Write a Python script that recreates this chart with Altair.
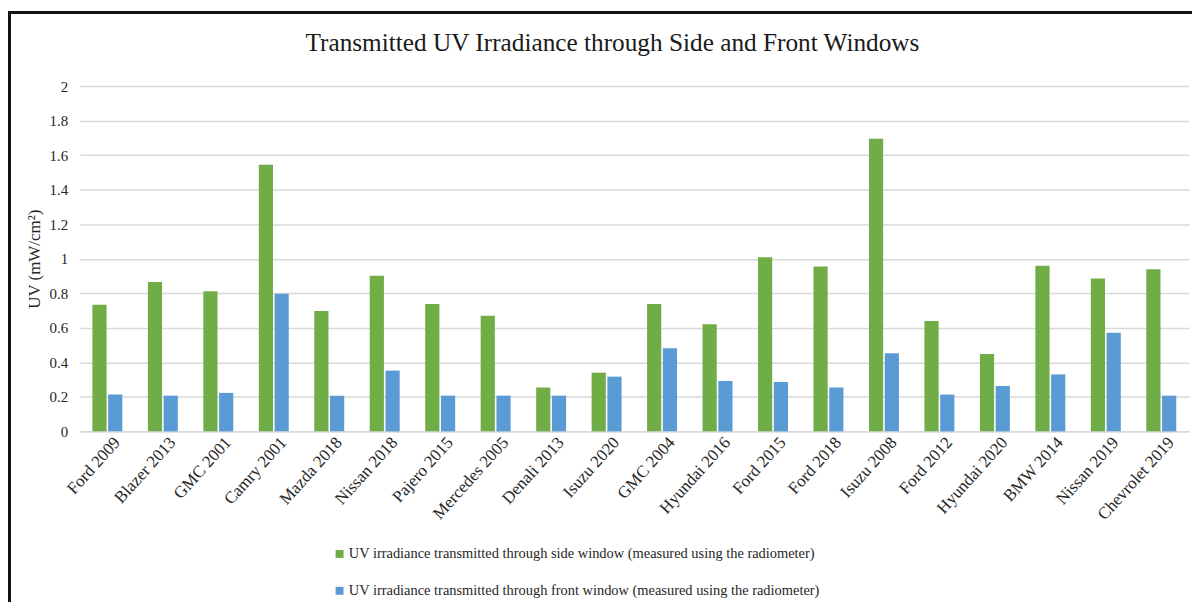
import altair as alt
import pandas as pd

cars = ["Ford 2009", "Blazer 2013", "GMC 2001", "Camry 2001", "Mazda 2018", "Nissan 2018",
        "Pajero 2015", "Mercedes 2005", "Denali 2013", "Isuzu 2020", "GMC 2004", "Hyundai 2016",
        "Ford 2015", "Ford 2018", "Isuzu 2008", "Ford 2012", "Hyundai 2020", "BMW 2014",
        "Nissan 2019", "Chevrolet 2019"]
side = [0.734, 0.865, 0.811, 1.545, 0.697, 0.901, 0.738, 0.669, 0.254, 0.340,
        0.738, 0.621, 1.009, 0.955, 1.695, 0.640, 0.448, 0.959, 0.886, 0.939]
front = [0.213, 0.207, 0.223, 0.797, 0.207, 0.352, 0.207, 0.207, 0.207, 0.317,
         0.482, 0.292, 0.286, 0.254, 0.453, 0.213, 0.263, 0.330, 0.571, 0.207]
series = ["UV irradiance transmitted through side window (measured using the radiometer)",
          "UV irradiance transmitted through front window (measured using the radiometer)"]
colors = ["#70AD47", "#5B9BD5"]
y_ticks = [0, 0.2, 0.4, 0.6, 0.8, 1.0, 1.2, 1.4, 1.6, 1.8, 2.0]

rows = []
for i, c in enumerate(cars):
    rows.append({"car": c, "series": series[0], "value": side[i]})
    rows.append({"car": c, "series": series[1], "value": front[i]})
df = pd.DataFrame(rows)

FONT = "Liberation Serif"
W, H = 1115, 347

bars = alt.Chart(df).mark_bar().encode(
    x=alt.X("car:N", sort=cars,
            scale=alt.Scale(paddingInner=0.46, paddingOuter=0.23),
            axis=alt.Axis(title=None, labelAngle=-48, labelAlign="right", labelBaseline="middle",
                          labelFontSize=17, labelPadding=8, labelOffset=10, ticks=False,
                          domainColor="#d9d9d9", domainWidth=1.5, grid=False)),
    xOffset=alt.XOffset("series:N", sort=series, scale=alt.Scale(paddingInner=0.1)),
    y=alt.Y("value:Q", scale=alt.Scale(domain=[0, 2], nice=False),
            axis=alt.Axis(title="UV (mW/cm²)", values=y_ticks, format="~g",
                          titlePadding=6, labelPadding=12, ticks=False, domain=False,
                          gridColor="#d9d9d9", gridWidth=1.5)),
    color=alt.Color("series:N", sort=series,
                    scale=alt.Scale(domain=series, range=colors),
                    legend=alt.Legend(title=None, orient="none", legendX=254, legendY=463,
                                      direction="vertical", symbolType="square", symbolSize=64,
                                      symbolStrokeWidth=0,
                                      labelLimit=900, rowPadding=22, labelOffset=2)),
)

border = alt.Chart(pd.DataFrame({"a": [0]})).mark_rect(
    fill=None, stroke="#111111", strokeWidth=3
).encode(x=alt.value(-70.5), x2=alt.value(1140), y=alt.value(-74), y2=alt.value(540))

chart = alt.layer(border, bars).properties(
    width=W, height=H,
    title=alt.TitleParams("Transmitted UV Irradiance through Side and Front Windows",
                          font=FONT, fontSize=25.4, fontWeight="normal", color="#1a1a1a",
                          anchor="middle", frame="group", dx=-22, offset=-45.5),
    autosize=alt.AutoSizeParams(type="none"),
    padding={"left": 72, "top": 77, "right": 3, "bottom": 170},
).configure_view(stroke=None).configure_axis(
    labelFont=FONT, labelFontSize=15, labelColor="#262626",
    titleFont=FONT, titleFontSize=17, titleFontWeight="normal", titleColor="#262626",
).configure_legend(
    labelFont=FONT, labelFontSize=14.5, labelColor="#262626",
)

chart.save("out.html", embed_options={"renderer": "svg", "actions": False})
